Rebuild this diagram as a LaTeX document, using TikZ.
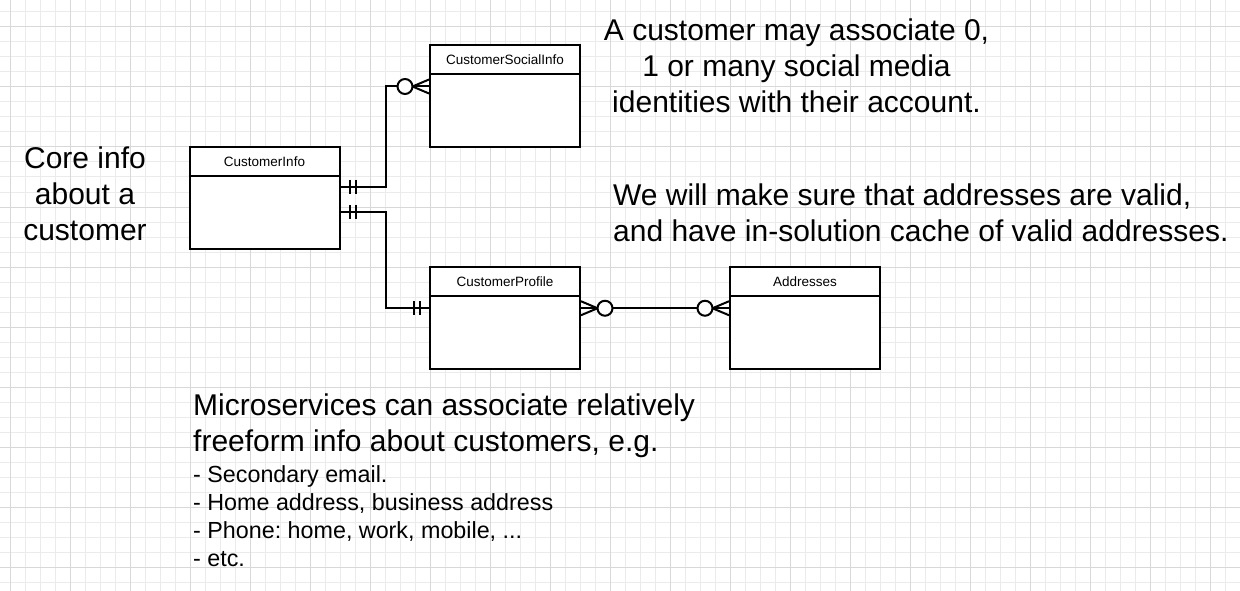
\documentclass[tikz,border=0pt]{standalone}
\usepackage{fontspec}
\setmainfont{Liberation Sans}
\frenchspacing
\definecolor{gridminor}{HTML}{EBEBEB}
\definecolor{gridmajor}{HTML}{D8D8D8}
\tikzset{
  link/.style={line width=2pt},
  entity/.style={draw, line width=2pt, fill=white, minimum width=150pt, minimum height=102pt, inner sep=0pt},
  entitylabel/.style={font=\fontsize{13.5}{16}\selectfont, inner sep=0pt},
  bigtext/.style={font=\fontsize{30}{36}\selectfont, inner sep=0pt},
  smalltext/.style={font=\fontsize{23.3}{28}\selectfont, inner sep=0pt},
  zeromany/.pic={
    \draw[link] (-16.5,0) -- (0,-7) (-16.5,0) -- (0,7);
    \draw[link, fill=white] (-24,0) circle[radius=7.5pt];
  },
  oneonly/.pic={
    \draw[link] (-9,-7) -- (-9,7) (-15,-7) -- (-15,7);
  }
}
\begin{document}
\begin{tikzpicture}[x=1pt,y=-1pt]
\useasboundingbox (0,0) rectangle (1240,591);
% grid
\foreach \gx in {10,25,...,1240} \draw[gridminor, line width=1pt] (\gx,0) -- (\gx,591);
\foreach \gy in {12,27,...,591} \draw[gridminor, line width=1pt] (0,\gy) -- (1240,\gy);
\foreach \gx in {10,70,...,1240} \draw[gridmajor, line width=1pt] (\gx,0) -- (\gx,591);
\foreach \gy in {27,87,...,591} \draw[gridmajor, line width=1pt] (0,\gy) -- (1240,\gy);
% entities
\node[entity] (info) at (264.5,198.25) {};
\node[entity] (social) at (505,96.5) {};
\node[entity] (profile) at (505,318.25) {};
\node[entity] (addr) at (805,318.25) {};
\foreach \e in {info,social,profile,addr}
  \draw[link] ([yshift=-30pt]\e.north west) -- ([yshift=-30pt]\e.north east);
\node[entitylabel] (infoT) at ([yshift=-15pt]info.north) {CustomerInfo};
\node[entitylabel] (socialT) at ([yshift=-15pt]social.north) {CustomerSocialInfo};
\node[entitylabel] (profileT) at ([yshift=-15pt]profile.north) {CustomerProfile};
\node[entitylabel] (addrT) at ([yshift=-15pt]addr.north) {Addresses};
% relations
\draw[link] ([yshift=-40.5pt]info.north east) -- ++(45,0) |- ([yshift=-42pt]social.north west);
\draw[link] ([yshift=-65.5pt]info.north east) -- ++(45,0) |- ([yshift=-42pt]profile.north west);
\draw[link] ([yshift=-42pt]profile.north east) -- ([yshift=-42pt]addr.north west);
\pic[xscale=-1] at ([yshift=-40.5pt]info.north east) {oneonly};
\pic[xscale=-1] at ([yshift=-65.5pt]info.north east) {oneonly};
\pic at ([yshift=-42pt]social.north west) {zeromany};
\pic at ([yshift=-42pt]profile.north west) {oneonly};
\pic[xscale=-1] at ([yshift=-42pt]profile.north east) {zeromany};
\pic at ([yshift=-42pt]addr.north west) {zeromany};
% notes (base = last line)
\node[bigtext, align=center, anchor=base] (core) at (85,240.5) {Core info\\about a\\customer};
\node[bigtext, align=center, anchor=base] (socialnote) at (796.5,112.5) {A customer may associate 0,\\1 or many social media\\identities with their account.};
\node[bigtext, align=left, anchor=base west] (addrnote) at (613,241) {We will make sure that addresses are valid,\\and have in-solution cache of valid addresses.};
\node[bigtext, align=left, anchor=base west] (profnote) at (193,451) {Microservices can associate relatively\\freeform info about customers, e.g.};
\node[smalltext, align=left, anchor=base west] (proflist) at (193,566) {- Secondary email.\\- Home address, business address\\- Phone: home, work, mobile, ...\\- etc.};
\end{tikzpicture}
\end{document}
